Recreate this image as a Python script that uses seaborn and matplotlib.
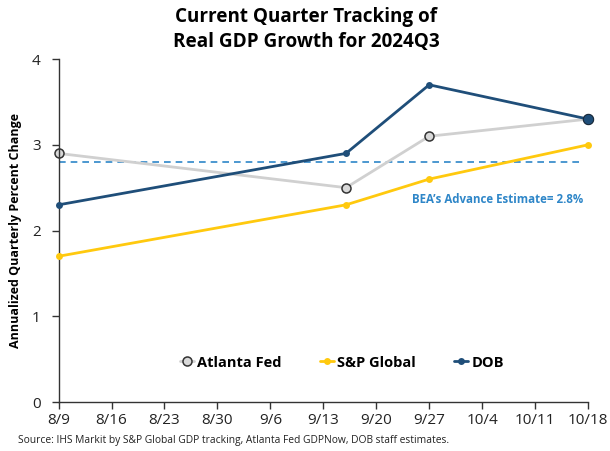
import matplotlib
matplotlib.use("Agg")
import matplotlib.pyplot as plt
import seaborn as sns
import pandas as pd

dates = ["2024-08-09", "2024-09-16", "2024-09-27", "2024-10-18"]
atlanta = [2.9, 2.5, 3.1, 3.3]
sp_global = [1.7, 2.3, 2.6, 3.0]
dob = [2.3, 2.9, 3.7, 3.3]
bea_estimate = 2.8
tick_dates = ["2024-08-09", "2024-08-16", "2024-08-23", "2024-08-30", "2024-09-06",
              "2024-09-13", "2024-09-20", "2024-09-27", "2024-10-04", "2024-10-11", "2024-10-18"]
tick_labels = ["8/9", "8/16", "8/23", "8/30", "9/6", "9/13", "9/20", "9/27", "10/4", "10/11", "10/18"]

sns.set_theme(style="white")
plt.rcParams['font.family'] = ['Open Sans', 'DejaVu Sans']
plt.rcParams['text.color'] = 'black'
plt.rcParams['axes.labelcolor'] = 'black'
plt.rcParams['xtick.color'] = '#222222'
plt.rcParams['ytick.color'] = '#222222'

df = pd.DataFrame({
    "date": pd.to_datetime(dates * 3),
    "value": atlanta + sp_global + dob,
    "series": ["Atlanta Fed"] * 4 + ["S&P Global"] * 4 + ["DOB"] * 4,
})

fig = plt.figure(figsize=(6.1, 4.51), dpi=100)
ax = fig.add_axes([0.096, 0.1086, 0.868, 0.7604])

palette = {"Atlanta Fed": "#D0D0D0", "S&P Global": "#FFC90E", "DOB": "#1F4E79"}

tx = pd.to_datetime(tick_dates)
ax.plot([tx[0], tx[-1] - pd.Timedelta(days=0.5)], [bea_estimate, bea_estimate],
        ls=(0, (4, 3)), color="#2E86C8", lw=1.2, zorder=1)

sub = df[df.series == "Atlanta Fed"]
sns.lineplot(data=sub, x="date", y="value", color=palette["Atlanta Fed"], lw=2,
             marker="o", markersize=6.5, markerfacecolor="#D9D9D9",
             markeredgecolor="#333333", markeredgewidth=1.1, ax=ax, label="Atlanta Fed", zorder=2,
             clip_on=False)
sub = df[df.series == "S&P Global"]
sns.lineplot(data=sub, x="date", y="value", color=palette["S&P Global"], lw=2,
             marker="o", markersize=5, markeredgewidth=0, ax=ax, label="S&P Global", zorder=3,
             clip_on=False)
sub = df[df.series == "DOB"]
sns.lineplot(data=sub, x="date", y="value", color=palette["DOB"], lw=2,
             marker="o", markersize=5, markeredgewidth=0, ax=ax, label="DOB", zorder=4,
             clip_on=False)
last = sub.iloc[[-1]]
sns.scatterplot(data=last, x="date", y="value", color=palette["DOB"], s=55,
                edgecolor="#1a2a3a", linewidth=0.8, ax=ax, zorder=5, clip_on=False, legend=False)

ax.set_xlim(tx[0], tx[-1])
ax.set_ylim(0, 4)
ax.set_xticks(tx)
ax.set_xticklabels(tick_labels, fontsize=11)
ax.set_yticks([0, 1, 2, 3, 4])
ax.set_yticklabels(["0", "1", "2", "3", "4"], fontsize=11)
ax.tick_params(axis="both", which="both", direction="out", length=5, width=1, color="#333333",
               bottom=True, left=True, pad=3)
ax.tick_params(axis="y", pad=8)
for s in ["top", "right"]:
    ax.spines[s].set_visible(False)
for s in ["left", "bottom"]:
    ax.spines[s].set_color("#333333")
    ax.spines[s].set_linewidth(1)
ax.set_xlabel("")
ax.set_ylabel("Annualized Quarterly Percent Change", fontsize=9.0, fontweight="bold", labelpad=7)

ax.text(pd.Timestamp("2024-10-06"), 2.36, "BEA\u2019s Advance Estimate= 2.8%", color="#2E86C8",
        fontsize=8.3, fontweight="bold", ha="center", va="center")

leg = ax.legend(loc="center", bbox_to_anchor=(0.535, 0.115), ncol=3, frameon=False,
                prop={"weight": "bold", "size": 10.5}, handlelength=1.0, handletextpad=0.2,
                columnspacing=2.6)

fig.suptitle("Current Quarter Tracking of\nReal GDP Growth for 2024Q3", x=0.502, y=0.985,
             fontsize=13.6, fontweight="bold", va="top", linespacing=1.35)

fig.text(0.03, 0.017, "Source: IHS Markit by S&P Global GDP tracking, Atlanta Fed GDPNow, DOB staff estimates.",
         fontsize=7.4, color="#222222")

fig.savefig("out.png", dpi=100)
